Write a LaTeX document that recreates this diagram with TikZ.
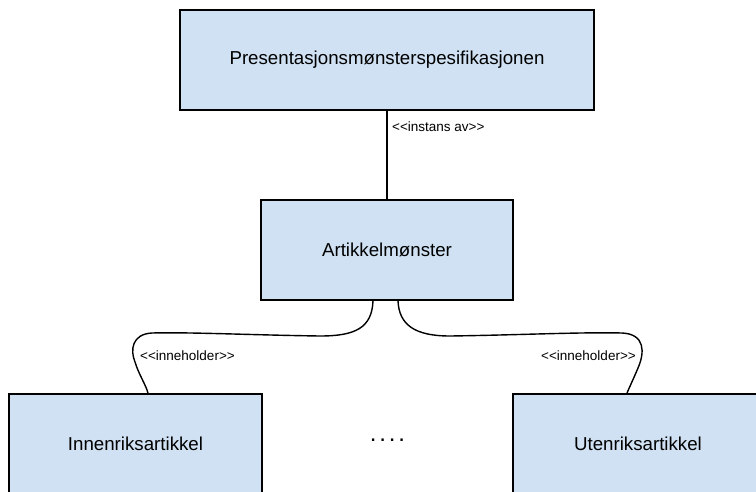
\documentclass[tikz,border=0pt]{standalone}
\usepackage{fontspec}
\setmainfont{Liberation Sans}
\begin{document}
\definecolor{boxfill}{RGB}{207,225,242}
\tikzset{
  classbox/.style={draw=black, line width=1.6pt, fill=boxfill, minimum height=100pt,
    inner sep=0pt, font=\fontsize{18.7}{22}\selectfont},
  link/.style={draw=black, line width=1.4pt},
  stereo/.style={font=\fontsize{13.5}{16}\selectfont, inner sep=0pt, anchor=west}
}
\begin{tikzpicture}[x=1pt, y=-1pt]
  \useasboundingbox (0,0) rectangle (756,491);
  \clip (0,0) rectangle (756,491);
  \fill[white] (0,0) rectangle (756,491);

  % class boxes
  \node[classbox, minimum width=414pt] (spec) at (387,60) {Presentasjonsmønsterspesifikasjonen};
  \node[classbox, minimum width=252pt] (mal) at (387,250) {Artikkelmønster};
  \node[classbox, minimum width=253pt] (inn) at (135.5,444) {Innenriksartikkel};
  \node[classbox, minimum width=250pt] (ute) at (638,444) {Utenriksartikkel};

  % instance relation
  \draw[link] (spec.south) -- (mal.north);
  \node[stereo] (lblinst) at (392,127) {<{}<instans av>{}>};

  % containment relations
  \draw[link] ([xshift=-14pt]mal.south)
    .. controls (372,328) and (355,336) .. (320,336)
    .. controls (250,335) and (190,332) .. (152,333)
    .. controls (132,334) and (130,350) .. (135,362)
    .. controls (139,375) and (146,385) .. ([xshift=12.5pt]inn.north);
  \draw[link] ([xshift=11pt]mal.south)
    .. controls (399,325) and (415,336) .. (450,336)
    .. controls (520,335) and (580,332) .. (622,333)
    .. controls (645,334) and (645,352) .. (638,368)
    .. controls (633,380) and (629,388) .. ([xshift=-11pt]ute.north);
  \node[stereo] (lblinn) at (140,356) {<{}<inneholder>{}>};
  \node[stereo] (lblute) at (541,356) {<{}<inneholder>{}>};

  % ellipsis between the two article kinds
  \node[font=\fontsize{24}{28}\selectfont, inner sep=0pt] (dots) at (387.5,440)
    {.\hspace{2.8pt}.\hspace{2.8pt}.\hspace{2.8pt}.};
\end{tikzpicture}
\end{document}
